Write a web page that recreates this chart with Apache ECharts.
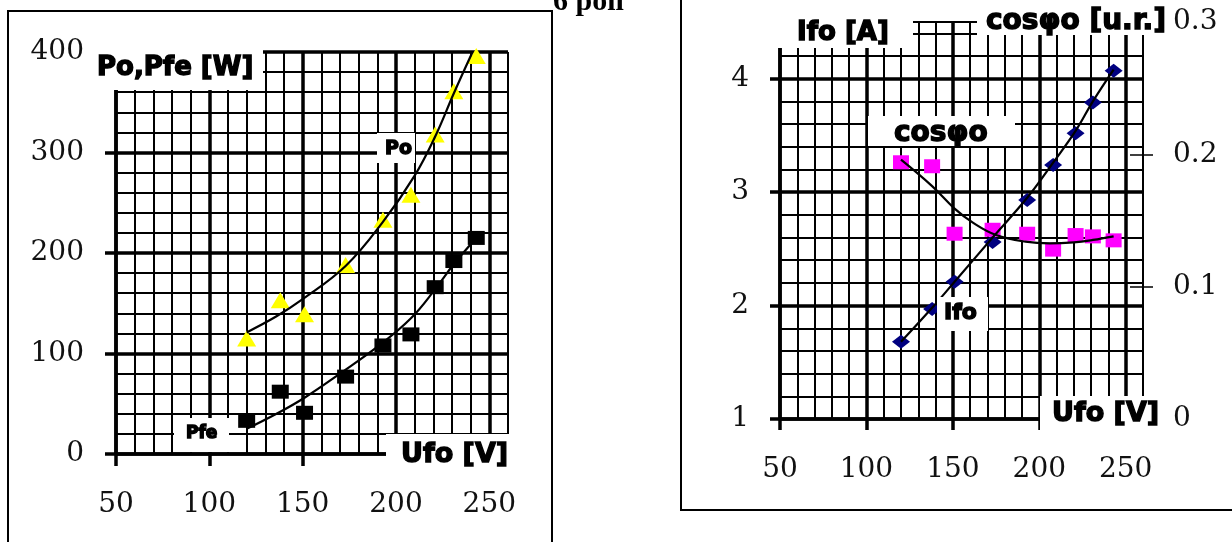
<!DOCTYPE html>
<html><head><meta charset="utf-8">
<script src="https://cdn.jsdelivr.net/npm/echarts@6/dist/echarts.min.js"></script>
<style>html,body{margin:0;padding:0;background:#fff}#c{width:1232px;height:542px}</style>
</head><body><div id="c"></div>
<script>
// ---- data ----
const voltage = [120, 138, 151, 173, 193, 208, 221, 231, 243];
const po      = [115, 153, 139, 188, 233, 258, 318, 361, 396];
const pfe     = [33, 62, 41, 77, 108, 119, 166, 192, 215];
const ifo     = [1.68, 1.97, 2.21, 2.56, 2.93, 3.24, 3.52, 3.79, 4.07];
const cosphi  = [0.194, 0.191, 0.140, 0.143, 0.140, 0.128, 0.139, 0.138, 0.135];

// trend curves drawn in the picture
const poTrendV  = [120, 136, 150, 173, 193, 210, 221, 231, 241];
const poTrendP  = [121, 137, 154, 187, 231, 277, 316, 359, 400];
const pfeTrendV = [120, 136, 151, 170, 191, 208, 221, 231, 243];
const pfeTrendP = [25, 40, 56, 80, 108, 135, 164, 189, 215];
const ifoTrendV = [120, 138, 151, 173, 193, 208, 221, 231, 243];
const ifoTrendI = [1.68, 1.98, 2.21, 2.60, 2.95, 3.26, 3.54, 3.80, 4.08];
const cosTrendV = [120, 138, 151, 162, 175, 192, 206, 220, 231, 243];
const cosTrendC = [0.196, 0.176, 0.159, 0.148, 0.139, 0.134, 0.1327, 0.1335, 0.1353, 0.138];

// axis ranges / ticks
const xRange = [50, 260], xMajor = 50, xMinor = 10;
const pRange = [0, 400], pMajor = 100, pMinor = 20;
const iRange = [1, 4.5], iMajor = 1, iMinor = 0.2;
const cRange = [0, 0.3], cMajor = 0.1;

const zip = (a, b) => a.map((v, i) => [v, b[i]]);

const tickFont = { fontFamily: 'DejaVu Serif', fontSize: 28, color: '#111' };
const thin = { show: true, lineStyle: { color: '#000', width: 2 } };
const none = { show: false };

function thinAxis(gi, range, step, pos) {
  return { type: 'value', gridIndex: gi, min: range[0], max: range[1], interval: step, position: pos,
    axisLine: none, axisTick: none, axisLabel: none, splitLine: thin, z: 0 };
}
function thickAxis(gi, range, step, pos, tickLen, margin, showMax) {
  return { type: 'value', gridIndex: gi, min: range[0], max: range[1], interval: step, position: pos,
    axisLine: { show: true, onZero: false, lineStyle: { color: '#000', width: 3.5 } },
    axisTick: { show: true, length: tickLen, lineStyle: { color: '#000', width: 3.5 } },
    axisLabel: Object.assign({ show: true, margin: margin, showMaxLabel: showMax }, tickFont),
    splitLine: { show: true, showMaxLine: showMax, lineStyle: { color: '#000', width: 3.5 } }, z: 1 };
}

const chart = echarts.init(document.getElementById('c'));
const G0 = { left: 116, top: 52, width: 392, height: 402 };
const G1 = { left: 780, top: 22, width: 363, height: 397 };

const txt = (s, x, y, size) => ({
  type: 'text', x: x, y: y, z: 200,
  style: { text: s, font: 'bold ' + size + 'px "DejaVu Sans"', fill: '#000', stroke: '#000', lineWidth: 1.4,
    textAlign: 'left', align: 'left', textVerticalAlign: 'middle', verticalAlign: 'middle' }
});
const box = (x, y, w, h) => ({ type: 'rect', z: 150, shape: { x: x, y: y, width: w, height: h },
  style: { fill: '#fff', stroke: null } });

chart.setOption({
  animation: false,
  backgroundColor: '#fff',
  grid: [
    Object.assign({ containLabel: false, outerBoundsMode: 'none', show: false }, G0),
    Object.assign({ containLabel: false, outerBoundsMode: 'none', show: false }, G1)
  ],
  xAxis: [
    thinAxis(0, xRange, xMinor, 'bottom'),
    thickAxis(0, xRange, xMajor, 'bottom', 12, 37, false),
    thinAxis(1, xRange, xMinor, 'bottom'),
    thickAxis(1, xRange, xMajor, 'bottom', 11, 37, false)
  ],
  yAxis: [
    thinAxis(0, pRange, pMinor, 'left'),
    thickAxis(0, pRange, pMajor, 'left', 11, 32, true),
    thinAxis(1, iRange, iMinor, 'left'),
    thickAxis(1, iRange, iMajor, 'left', 10, 31, false),
    { type: 'value', gridIndex: 1, min: cRange[0], max: cRange[1], interval: cMajor, position: 'right', offset: 10,
      axisLine: none,
      axisTick: { show: true, inside: true, length: 23, lineStyle: { color: '#000', width: 1.5 } },
      axisLabel: Object.assign({ show: true, margin: 20 }, tickFont),
      splitLine: none, z: 1 }
  ],
  series: [
    { name: 'Po', type: 'scatter', xAxisIndex: 1, yAxisIndex: 1, data: zip(voltage, po),
      symbol: 'triangle', symbolSize: [19, 16], itemStyle: { color: '#FFFF00', opacity: 1 }, z: 2 },
    { name: 'Pfe', type: 'scatter', xAxisIndex: 1, yAxisIndex: 1, data: zip(voltage, pfe),
      symbol: 'rect', symbolSize: [17, 14], itemStyle: { color: '#000', opacity: 1 }, z: 2 },
    { name: 'Po trend', type: 'line', xAxisIndex: 1, yAxisIndex: 1, data: zip(poTrendV, poTrendP),
      smooth: 0.4, showSymbol: false, lineStyle: { color: '#000', width: 2.2 }, z: 3 },
    { name: 'Pfe trend', type: 'line', xAxisIndex: 1, yAxisIndex: 1, data: zip(pfeTrendV, pfeTrendP),
      smooth: 0.4, showSymbol: false, lineStyle: { color: '#000', width: 2.2 }, z: 3 },
    { name: 'Ifo', type: 'scatter', xAxisIndex: 3, yAxisIndex: 3, data: zip(voltage, ifo),
      symbol: 'diamond', symbolSize: [18, 14], itemStyle: { color: '#000080', opacity: 1 }, z: 2 },
    { name: 'cosφo', type: 'scatter', xAxisIndex: 3, yAxisIndex: 4, data: zip(voltage, cosphi),
      symbol: 'rect', symbolSize: [16, 14], itemStyle: { color: '#FF00FF', opacity: 1 }, z: 2 },
    { name: 'Ifo trend', type: 'line', xAxisIndex: 3, yAxisIndex: 3, data: zip(ifoTrendV, ifoTrendI),
      smooth: 0.4, showSymbol: false, lineStyle: { color: '#000', width: 2.2 }, z: 3 },
    { name: 'cos trend', type: 'line', xAxisIndex: 3, yAxisIndex: 4, data: zip(cosTrendV, cosTrendC),
      smooth: 0.4, showSymbol: false, lineStyle: { color: '#000', width: 2.2 }, z: 3 }
  ],
  graphic: [
    // panel frames
    { type: 'rect', z: 160, shape: { x: 8, y: 11, width: 544, height: 560 },
      style: { fill: 'none', stroke: '#000', lineWidth: 2 } },
    { type: 'rect', z: 160, shape: { x: 681, y: -20, width: 600, height: 530 },
      style: { fill: 'none', stroke: '#000', lineWidth: 2 } },
    // label masks
    box(100, 42, 163, 48),
    box(386, 434, 130, 42),
    box(174, 418, 55, 34),
    box(377, 133, 38, 30),
    box(760, 0, 153, 48),
    box(977, 0, 192, 35),
    box(868, 116, 147, 30),
    box(937, 297, 51, 34),
    box(1040, 396, 126, 44),
    // texts
    txt('Po,Pfe [W]', 97, 68, 26),
    txt('Ufo [V]', 401, 455, 27),
    txt('Pfe', 186, 434, 17),
    txt('Po', 385, 149, 19),
    txt('Ifo [A]', 797, 33, 26),
    txt('cosφo [u.r.]', 986, 22, 28),
    txt('cosφo', 894, 134, 28),
    txt('Ifo', 944, 313, 22),
    txt('Ufo [V]', 1052, 414, 27),
    { type: 'text', x: 553, y: 2, z: 200,
      style: { text: '6 poli', font: 'bold 30px "Liberation Serif"', fill: '#000',
        textAlign: 'left', align: 'left', textVerticalAlign: 'middle', verticalAlign: 'middle' } }
  ]
});
</script></body></html>
